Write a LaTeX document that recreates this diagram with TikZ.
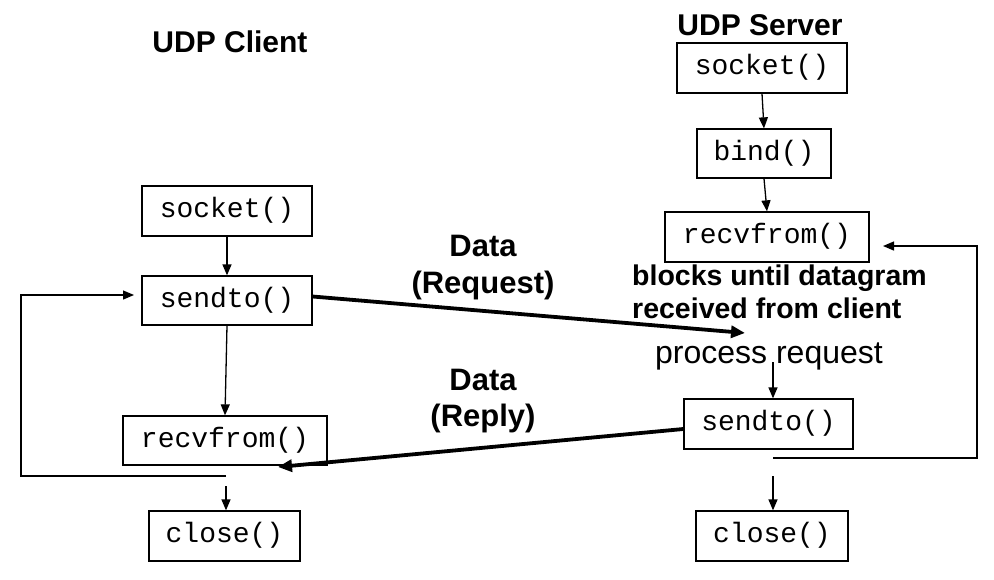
\documentclass[tikz,border=0pt]{standalone}
\usepackage{fontspec}
\setmainfont{Liberation Sans}
\setmonofont{Liberation Mono}
\usetikzlibrary{arrows.meta}
\tikzset{
  fbox/.style={draw, line width=1.3pt, inner sep=0pt, font=\fontsize{28}{30}\selectfont\ttfamily, text height=17pt, text depth=4pt},
  thinarrow/.style={line width=1.3pt, -{Triangle[length=11pt,width=9pt]}},
  thickarrow/.style={line width=3.8pt, -{Triangle[length=14pt,width=12pt]}},
  title/.style={font=\fontsize{30}{36}\selectfont\bfseries},
  lbl/.style={font=\fontsize{31}{38}\selectfont\bfseries, align=center},
  note/.style={font=\fontsize{28.5}{33}\selectfont\bfseries, align=left, anchor=north west, inner sep=0pt},
  proc/.style={font=\fontsize{32}{36}\selectfont, inner sep=0pt}
}
\begin{document}
\begin{tikzpicture}[x=1pt,y=-1pt]
\useasboundingbox (0,0) rectangle (994,579);
% titles
\node[title] (tclient) at (230,42) {UDP Client};
\node[title] (tserver) at (760,25) {UDP Server};
% client boxes
\node[fbox, minimum width=170pt, minimum height=50pt] (csocket) at (227,211) {socket()};
\node[fbox, minimum width=170pt, minimum height=49pt] (csendto) at (227,300.5) {sendto()};
\node[fbox, minimum width=204pt, minimum height=49pt] (crecv) at (225,440.5) {recvfrom()};
\node[fbox, minimum width=151pt, minimum height=50pt] (cclose) at (224.5,536) {close()};
% server boxes
\node[fbox, minimum width=170pt, minimum height=50pt] (ssocket) at (762,68) {socket()};
\node[fbox, minimum width=134pt, minimum height=49pt] (sbind) at (764,153.5) {bind()};
\node[fbox, minimum width=204pt, minimum height=50pt] (srecv) at (767,237) {recvfrom()};
\node[fbox, minimum width=169pt, minimum height=50pt] (ssendto) at (768.5,424) {sendto()};
\node[fbox, minimum width=152pt, minimum height=50pt] (sclose) at (772,536) {close()};
% texts
\node[note] (blocks) at (632,265) {blocks until datagram\\received from client};
\node[proc] (proc) at (769,356) {process request};
\node[lbl] (ldata1) at (483,246) {Data};
\node[lbl] (lreq) at (483,285) {(Request)};
\node[lbl] (ldata2) at (483,380) {Data};
\node[lbl] (lrep) at (483,418) {(Reply)};
% coordinates
\coordinate (reqend) at (745,333);
\coordinate (repend) at (278,467);
\coordinate (cl1) at (226,476);
\coordinate (cl2) at (21,476);
\coordinate (cl3) at (21,295);
\coordinate (cl4) at (134,295);
\coordinate (cc) at (226,486);
\coordinate (sl1) at (773,458);
\coordinate (sl2) at (977,458);
\coordinate (sl3) at (977,246);
\coordinate (sl4) at (883,246);
\coordinate (sc) at (773,476);
\coordinate (ps) at (773,362);
% client arrows
\draw[thinarrow] (csocket.south) -- (csendto.north);
\draw[thinarrow] (csendto.south) -- (crecv.north);
\draw[thinarrow] (cl1) -- (cl2) -- (cl3) -- (cl4);
\draw[thinarrow] (cc) -- (cc |- cclose.north);
% server arrows
\draw[thinarrow] (ssocket.south) -- (sbind.north);
\draw[thinarrow] (sbind.south) -- (srecv.north);
\draw[thinarrow] (ps) -- (ps |- ssendto.north);
\draw[thinarrow] (sl1) -- (sl2) -- (sl3) -- (sl4);
\draw[thinarrow] (sc) -- (sc |- sclose.north);
% data arrows
\draw[thickarrow] ([yshift=4pt]csendto.east) -- (reqend);
\draw[thickarrow] ([yshift=-5pt]ssendto.west) -- (repend);
\end{tikzpicture}
\end{document}
